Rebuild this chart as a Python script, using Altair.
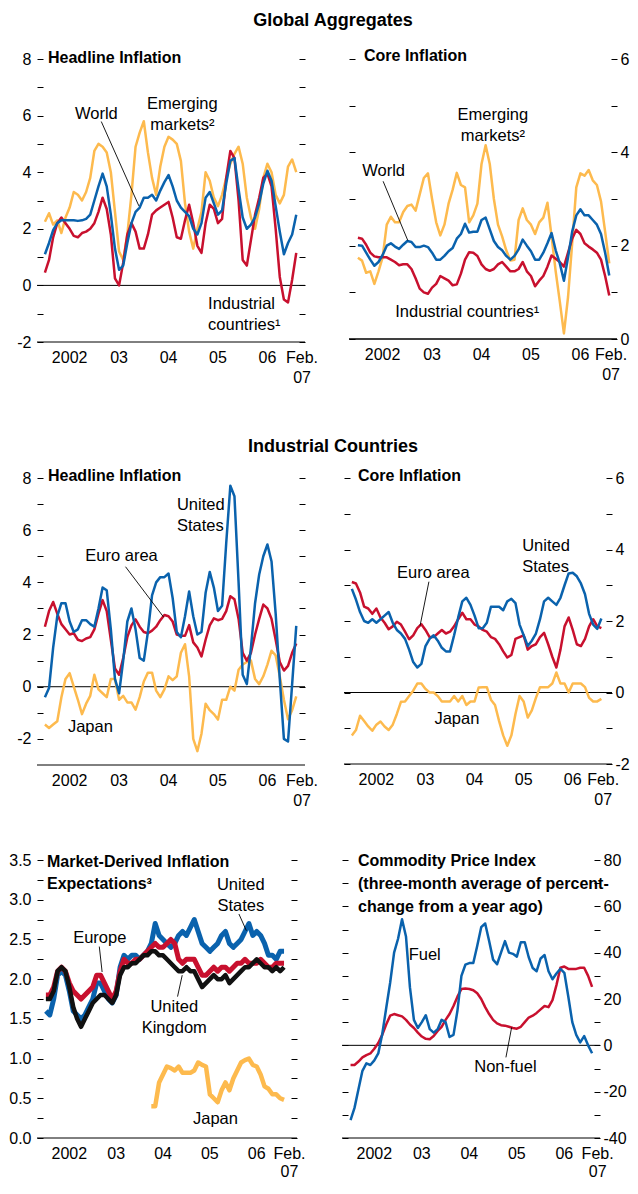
import altair as alt
import pandas as pd

FONT = "Liberation Sans, Arial, Helvetica, sans-serif"
BLUE = "#0A62AD"
RED = "#C8102E"
YELLOW = "#FDBA4E"
BLACK = "#111111"

N = 62  # Jan 2002 .. Feb 2007, monthly
MONTHS = [2002 + i / 12 for i in range(N)]
YEAR_TICKS = [2002, 2003, 2004, 2005, 2006, 2007]
XLAB_POS = [2002.5, 2003.5, 2004.5, 2005.5, 2006.5]
XLAB_TEXT = ["2002", "03", "04", "05", "06"]
FEB_TEXT = "Feb.\n07"

# ---------------- Global aggregates: headline ----------------
GA_HEAD_WORLD = [1.1, 1.5, 1.95, 2.2, 2.3, 2.3, 2.3, 2.3, 2.28, 2.3,
                 2.35, 2.5, 3.0, 3.5, 3.95, 3.5, 2.5, 1.3, 0.55, 0.7,
                 1.5, 2.2, 2.6, 2.75, 3.1, 3.1, 3.2, 3.0, 3.35, 3.65,
                 3.9, 3.5, 3.0, 2.75, 2.6, 2.45, 2.0, 1.8, 2.2, 3.1,
                 3.3, 2.9, 2.5, 2.65, 3.6, 4.4, 4.5, 3.4, 2.4, 2.0,
                 2.15, 2.4, 2.9, 3.6, 4.05, 3.7, 2.8, 1.9, 1.1, 1.5,
                 1.8, 2.5]
GA_HEAD_IND = [0.45, 0.9, 1.7, 2.2, 2.4, 2.2, 2.0, 1.75, 1.7, 1.85,
               1.9, 2.0, 2.2, 2.6, 3.1, 2.7, 1.8, 0.25, 0.0, 0.8,
               1.8, 2.2, 1.9, 1.3, 1.3, 1.8, 2.5, 2.65, 2.75, 2.85,
               2.95, 2.4, 1.7, 1.65, 2.3, 2.85, 2.2, 1.4, 1.15, 2.2,
               2.85, 2.7, 2.2, 2.35, 3.8, 4.75, 4.5, 3.0, 0.9, 0.7,
               1.6, 2.5, 3.1, 3.8, 3.95, 3.5, 2.0, 0.3, -0.5, -0.6,
               0.2, 1.15]
GA_HEAD_EM = [2.25, 2.55, 2.15, 2.3, 1.85, 2.4, 2.75, 3.3, 3.2, 3.0,
              3.3, 3.8, 4.75, 5.0, 4.9, 4.7, 4.0, 2.6, 1.2, 0.9,
              1.8, 3.2, 4.9, 5.4, 5.8, 4.7, 3.8, 3.2, 4.2, 4.9,
              5.25, 5.15, 5.0, 4.4, 2.9, 1.9, 1.3, 2.0, 2.6, 4.0,
              3.7, 3.1, 2.8, 3.2, 3.8, 4.3, 4.65, 4.9, 4.3, 3.1,
              2.4, 2.0, 2.7, 3.8, 4.3, 4.0, 3.2, 2.9, 3.2, 4.2,
              4.45, 4.0]

# ---------------- Global aggregates: core ----------------
GA_CORE_WORLD = [2.01, 2.0, 1.85, 1.7, 1.57, 1.65, 1.8, 2.0, 2.05, 1.98,
                 1.93, 2.02, 2.1, 2.08, 1.97, 1.97, 2.0, 1.97, 1.85, 1.7,
                 1.7, 1.78, 1.88, 1.95, 2.15, 2.25, 2.47, 2.28, 2.3, 2.3,
                 2.55, 2.6, 2.35, 2.1, 1.97, 1.9, 1.78, 1.7, 1.78, 1.92,
                 2.13, 2.0, 1.88, 1.7, 1.7, 1.85, 2.05, 2.27, 1.9, 1.62,
                 1.25, 1.75, 2.3, 2.65, 2.78, 2.65, 2.65, 2.55, 2.45, 2.25,
                 1.85, 1.36]
GA_CORE_IND = [2.17, 2.15, 2.02, 1.85, 1.77, 1.75, 1.75, 1.75, 1.7, 1.65,
               1.58, 1.6, 1.6, 1.5, 1.3, 1.08, 1.0, 0.97, 1.1, 1.18,
               1.35, 1.3, 1.25, 1.15, 1.17, 1.4, 1.7, 1.86, 1.85, 1.78,
               1.6, 1.5, 1.46, 1.5, 1.6, 1.65, 1.55, 1.45, 1.45, 1.5,
               1.65, 1.45, 1.35, 1.13, 1.25, 1.35, 1.55, 1.79, 1.72, 1.65,
               1.55, 1.85, 2.15, 2.34, 2.25, 2.05, 1.98, 1.92, 1.85, 1.7,
               1.35, 0.93]
GA_CORE_EM = [1.74, 1.68, 1.42, 1.45, 1.18, 1.45, 1.75, 2.45, 2.62, 2.5,
              2.5, 2.72, 2.85, 2.88, 2.75, 3.1, 3.45, 3.55, 3.0, 2.5,
              2.22, 2.45, 2.9, 3.2, 3.56, 3.3, 3.25, 2.5, 2.65, 2.9,
              3.75, 4.15, 3.75, 3.0, 2.45, 2.2, 1.9, 1.68, 1.7, 2.55,
              2.8, 2.55, 2.45, 2.25, 2.5, 2.6, 2.92, 2.2, 1.45, 0.8,
              0.12, 0.9, 2.05, 3.25, 3.55, 3.5, 3.62, 3.4, 3.3, 2.95,
              2.3, 1.62]

# ---------------- Industrial countries: headline ----------------
IC_HEAD_US = [-0.4, -0.05, 1.5, 2.7, 3.2, 3.2, 2.5, 2.1, 2.2, 2.55,
              2.55, 2.4, 2.3, 3.0, 3.8, 3.7, 2.2, 0.3, -0.25, 1.0,
              2.5, 3.0, 2.2, 1.1, 1.0, 2.1, 3.5, 4.0, 4.2, 4.2,
              4.34, 3.4, 2.1, 1.9, 2.7, 3.65, 2.7, 2.0, 2.1, 3.6,
              4.4, 3.8, 2.9, 3.1, 5.5, 7.7, 7.3, 4.0, 0.46, 0.1,
              1.5, 3.2, 4.3, 5.0, 5.45, 4.8, 2.8, 0.3, -2.0, -2.1,
              0.1, 2.33]
IC_HEAD_EURO = [2.3, 2.9, 3.25, 2.8, 2.4, 2.2, 2.0, 2.05, 1.8, 1.75,
                1.85, 1.9, 2.2, 2.8, 3.32, 2.9, 1.8, 0.7, 0.46, 1.1,
                1.9, 2.35, 2.58, 2.3, 2.1, 2.05, 2.15, 2.3, 2.55, 2.75,
                2.7, 2.5, 2.0, 1.95, 1.95, 2.36, 1.7, 1.5, 1.16, 1.8,
                2.35, 2.62, 2.55, 2.6, 2.9, 3.47, 3.35, 2.6, 1.3, 1.0,
                1.3, 2.0, 2.6, 3.15, 3.0, 2.6, 1.8, 0.95, 0.62, 0.8,
                1.3, 1.66]
IC_HEAD_JAPAN = [-1.45, -1.58, -1.45, -1.32, -0.4, 0.3, 0.52, 0.0, -0.5, -1.05,
                 -0.65, -0.35, 0.46, -0.1, -0.25, -0.4, 0.3, 0.3, -0.5, -0.35,
                 -0.6, -0.6, -0.88, -0.4, 0.2, 0.54, 0.54, -0.15, -0.4, -0.1,
                 0.4, 0.25, 0.4, 1.3, 1.63, 0.4, -2.0, -2.47, -1.8, -0.65,
                 -0.9, -1.05, -1.26, -0.5, -0.5, 0.0, -0.15, 0.65, 0.85, 0.95,
                 1.0, 0.3, 0.1, 0.4, 0.85, 1.38, 1.2, 0.4, -0.5, -1.25,
                 -0.9, -0.37]

# ---------------- Industrial countries: core ----------------
IC_CORE_US = [2.9, 2.6, 2.25, 2.0, 1.95, 2.05, 1.95, 2.05, 2.15, 2.25,
              1.95, 1.75, 1.65, 1.5, 1.2, 0.85, 0.7, 0.8, 1.3, 1.5,
              1.6, 1.45, 1.25, 1.15, 1.15, 1.6, 2.1, 2.55, 2.65, 2.45,
              2.15, 1.8, 1.8, 1.95, 2.4, 2.4, 2.4, 2.3, 2.55, 2.62,
              2.5, 1.9, 1.6, 1.3, 1.45, 1.65, 2.05, 2.55, 2.65, 2.55,
              2.45, 2.65, 3.0, 3.33, 3.35, 3.25, 3.05, 2.75, 2.2, 1.9,
              1.78, 2.07]
IC_CORE_EURO = [3.09, 3.05, 2.8, 2.4, 2.35, 2.2, 2.35, 2.1, 1.95, 1.77,
                1.85, 1.98, 1.9, 1.7, 1.49, 1.6, 1.8, 1.91, 1.75, 1.55,
                1.55, 1.65, 1.75, 1.65, 1.7, 1.85, 2.05, 2.23, 2.05, 2.05,
                1.9, 1.85, 1.75, 1.7, 1.55, 1.5, 1.35, 1.15, 0.98, 1.05,
                1.5, 1.55, 1.6, 1.2, 1.3, 1.35, 1.55, 1.67, 1.35, 1.0,
                0.7, 1.2, 1.85, 2.1, 1.75, 1.35, 1.3, 1.5, 1.85, 2.05,
                1.85, 1.8]
IC_CORE_JAPAN = [-1.2, -1.05, -0.65, -0.8, -0.95, -1.07, -0.9, -0.81, -0.95, -1.05,
                 -0.9, -0.6, -0.26, -0.25, -0.1, 0.05, 0.25, 0.25, 0.1, 0.0,
                 0.0, -0.1, -0.25, -0.25, -0.25, -0.1, -0.25, -0.1, -0.35, -0.25,
                 -0.25, 0.14, 0.15, 0.15, -0.2, -0.35, -0.8, -1.2, -1.49, -1.2,
                 -0.6, -0.1, -0.25, -0.7, -0.5, -0.15, 0.15, 0.15, 0.15, 0.25,
                 0.56, 0.25, 0.25, 0.0, 0.25, 0.25, 0.25, 0.15, -0.15, -0.25,
                 -0.25, -0.18]

# ---------------- Market-derived inflation expectations ----------------
MK_US = [1.6, 1.55, 1.75, 2.05, 2.1, 2.05, 1.85, 1.6, 1.55, 1.5,
         1.55, 1.65, 1.75, 1.95, 1.95, 1.85, 1.75, 1.7, 1.8, 2.15,
         2.3, 2.25, 2.3, 2.3, 2.25, 2.3, 2.35, 2.45, 2.7, 2.55,
         2.5, 2.45, 2.4, 2.45, 2.55, 2.6, 2.55, 2.65, 2.75, 2.6,
         2.45, 2.4, 2.35, 2.4, 2.45, 2.55, 2.6, 2.45, 2.4, 2.45,
         2.5, 2.6, 2.7, 2.55, 2.6, 2.55, 2.45, 2.3, 2.3, 2.25,
         2.35, 2.35]
MK_EUROPE = [1.8, 1.8, 1.9, 2.1, 2.15, 2.1, 1.95, 1.85, 1.8, 1.75,
             1.8, 1.85, 1.9, 2.05, 2.05, 1.95, 1.85, 1.75, 1.85, 2.1,
             2.25, 2.2, 2.2, 2.25, 2.25, 2.3, 2.35, 2.4, 2.45, 2.4,
             2.4, 2.45, 2.5, 2.45, 2.25, 2.2, 2.25, 2.25, 2.25, 2.15,
             2.05, 2.05, 2.1, 2.15, 2.1, 2.15, 2.15, 2.1, 2.15, 2.2,
             2.2, 2.25, 2.2, 2.2, 2.2, 2.25, 2.2, 2.15, 2.15, 2.2,
             2.2, 2.2]
MK_UK = [1.75, 1.75, 1.85, 2.1, 2.15, 2.1, 1.9, 1.65, 1.5, 1.4,
         1.5, 1.6, 1.7, 1.75, 1.8, 1.8, 1.75, 1.7, 1.8, 2.05,
         2.15, 2.15, 2.2, 2.2, 2.25, 2.3, 2.3, 2.35, 2.35, 2.3,
         2.3, 2.25, 2.2, 2.15, 2.1, 2.1, 2.15, 2.1, 2.1, 2.0,
         1.9, 1.95, 2.0, 2.05, 2.0, 2.0, 2.05, 1.95, 2.0, 2.05,
         2.1, 2.15, 2.15, 2.2, 2.25, 2.2, 2.15, 2.15, 2.1, 2.15,
         2.1, 2.15]
MK_JAPAN = [None] * 27 + [
    0.4, 0.4, 0.7, 0.8, 0.9, 0.88, 0.85, 0.9, 0.82, 0.82,
    0.82, 0.85, 0.95, 0.92, 0.9, 0.55, 0.5, 0.45, 0.6, 0.7,
    0.6, 0.75, 0.85, 0.95, 0.98, 1.0, 0.92, 0.9, 0.8, 0.65,
    0.62, 0.55, 0.55, 0.5, 0.48]

# ---------------- Commodity price index ----------------
CP_FUEL = [-32.3, -27, -19, -11, -7.8, -8.5, -6.5, -3.5, 4.8, 16,
           27, 40, 46, 54.4, 47, 25, 11, 7.5, 10, 13,
           7, 5.5, 7, 11, 10, 3.6, 4.5, 15, 30, 34.8,
           35.5, 35.5, 43, 51, 52.6, 45, 37, 35, 40, 45,
           40, 39.5, 38.3, 44.5, 44.5, 38, 33.4, 32, 37.5, 39,
           32, 28.5, 31, 33, 31.3, 21, 10, 4.5, 1.3, 4,
           0, -3.4]
CP_NONFUEL = [-8.5, -8.5, -7, -5.2, -4.2, -3.5, -1.5, 1, 4.5, 9,
              12.8, 13.5, 13, 12.5, 11, 9, 7.5, 5.5, 3.8, 2.8,
              2.6, 4, 6.2, 8, 11, 13.5, 17, 21, 24.3, 24.5,
              24.3, 23.8, 22.5, 20, 16.5, 13.5, 11, 9.5, 8.7, 8.5,
              8, 7.5, 7.2, 8, 10, 12, 12.8, 14, 15.5, 17,
              16.5, 19.5, 26, 33.5, 34, 33, 33, 33, 33.5, 33.5,
              30, 25.2]

LABEL_FS = 16
ANNOT_FS = 16.5
TITLE_FS = 16


def make_panel(series, xdom, ydom, yvals, lab_expr, left_labels, right_labels,
               W, H, title, title_x, title_y, annots, leaders,
               zero_line=True, title_lh=22, feb_pos=2007.2, xlab_lh=20):
    xs = alt.Scale(domain=xdom, nice=False, zero=False)
    ys = alt.Scale(domain=ydom, nice=False, zero=False)

    def xenc(axis=None):
        return alt.X("t:Q", scale=xs, axis=axis, title=None)

    # ticks mostly inside the plot, axis line drawn as a separate rule
    xaxis = alt.Axis(values=YEAR_TICKS, labels=False, ticks=True, tickSize=8,
                     tickColor="black", tickWidth=1, domain=False, offset=-6,
                     grid=False, title=None)

    def yaxis(orient, show):
        kw = dict(orient=orient, values=yvals, ticks=True, tickSize=6,
                  tickColor="black", tickWidth=1, offset=-6, domain=False,
                  grid=False, title=None, minExtent=0)
        if show:
            kw.update(labels=True, labelExpr=lab_expr, labelFont=FONT,
                      labelFontSize=LABEL_FS, labelColor="black",
                      labelPadding=6 if orient == "left" else 3,
                      labelOverlap=False, labelFlush=False)
        else:
            kw.update(labels=False)
        return alt.Axis(**kw)

    layers = []
    zdf = pd.DataFrame({"v": [0.0]})
    layers.append(
        alt.Chart(zdf).mark_rule(color="black", strokeWidth=1,
                                 opacity=1 if zero_line else 0).encode(
            y=alt.Y("v:Q", scale=ys, axis=yaxis("right", right_labels))))
    # bottom axis line
    layers.append(
        alt.Chart(zdf).mark_rule(color="black", strokeWidth=1).encode(
            y=alt.value(H)))

    for k, (vals, color, sw) in enumerate(series):
        df = pd.DataFrame({"t": MONTHS, "v": vals}).dropna()
        layers.append(
            alt.Chart(df).mark_line(color=color, strokeWidth=sw,
                                    strokeJoin="round").encode(
                x=xenc(xaxis if k == 0 else None),
                y=alt.Y("v:Q", scale=ys,
                        axis=yaxis("left", left_labels) if k == 0 else None)))

    xl = pd.DataFrame({"t": XLAB_POS + [feb_pos], "lab": XLAB_TEXT + [FEB_TEXT]})
    layers.append(
        alt.Chart(xl).mark_text(font=FONT, fontSize=LABEL_FS, baseline="alphabetic",
                                lineBreak="\n", lineHeight=xlab_lh, align="center",
                                color="black").encode(
            x=xenc(), y=alt.value(H + 21), text="lab:N"))

    for (t, v, txt, al) in annots:
        adf = pd.DataFrame({"t": [t], "v": [v], "txt": [txt]})
        layers.append(
            alt.Chart(adf).mark_text(font=FONT, fontSize=ANNOT_FS, baseline="alphabetic",
                                     lineBreak="\n", lineHeight=21, align=al,
                                     color="black").encode(
                x=xenc(), y=alt.Y("v:Q", scale=ys, axis=None), text="txt:N"))

    if leaders:
        ldf = pd.DataFrame(leaders, columns=["t", "v", "t2", "v2"])
        layers.append(
            alt.Chart(ldf).mark_rule(color="black", strokeWidth=0.9).encode(
                x=xenc(), y=alt.Y("v:Q", scale=ys, axis=None),
                x2="t2:Q", y2="v2:Q"))

    tdf = pd.DataFrame({"a": [0]})
    layers.append(
        alt.Chart(tdf).mark_text(font=FONT, fontSize=TITLE_FS, fontWeight="bold",
                                 align="left", baseline="alphabetic",
                                 lineBreak="\n", lineHeight=title_lh,
                                 color="black").encode(
            x=alt.value(title_x), y=alt.value(title_y), text=alt.value(title)))

    return alt.layer(*layers).resolve_axis(y="independent").properties(
        width=W, height=H)


def text_block(text, x, y, h, size=18):
    return alt.Chart(pd.DataFrame({"a": [0]})).mark_text(
        font=FONT, fontSize=size, fontWeight="bold", align="center",
        baseline="alphabetic", color="black").encode(
        x=alt.value(x), y=alt.value(y), text=alt.value(text)
    ).properties(width=560, height=h)


EVEN = "datum.value % 2 === 0 ? toString(datum.value) : ''"
HALF = "round(datum.value * 4) % 2 === 0 ? format(datum.value, '.1f') : ''"
TWENTY = "datum.value % 20 === 0 ? toString(datum.value) : ''"

p1 = make_panel(
    [(GA_HEAD_EM, YELLOW, 2.5), (GA_HEAD_IND, RED, 2.5), (GA_HEAD_WORLD, BLUE, 2.5)],
    [2001.84, 2007.26], [-2, 8], list(range(-2, 9)), EVEN, True, False,
    268, 283, "Headline Inflation", 11, 4,
    [(2003.04, 5.89, "World", "center"),
     (2004.78, 6.25, "Emerging\nmarkets²", "center"),
     (2005.3, -0.84, "Industrial\ncountries¹", "left")],
    [(2003.14, 5.79, 2003.9, 2.81)])

p2 = make_panel(
    [(GA_CORE_EM, YELLOW, 2.5), (GA_CORE_IND, RED, 2.5), (GA_CORE_WORLD, BLUE, 2.5)],
    [2001.82, 2007.24], [0, 6], list(range(0, 7)), EVEN, False, True,
    268, 280, "Core Inflation", 15, 2,
    [(2004.73, 4.70, "Emerging\nmarkets²", "center"),
     (2002.52, 3.49, "World", "center"),
     (2004.21, 0.47, "Industrial countries¹", "center")],
    [(2002.51, 3.38, 2003.01, 2.11)], feb_pos=2007.12)

p3 = make_panel(
    [(IC_HEAD_JAPAN, YELLOW, 2.5), (IC_HEAD_EURO, RED, 2.5), (IC_HEAD_US, BLUE, 2.5)],
    [2001.84, 2007.26], [-3, 8], list(range(-2, 9)), EVEN, True, False,
    268, 287, "Headline Inflation", 11, 3,
    [(2004.67, 6.78, "United\nStates", "left"),
     (2003.55, 4.83, "Euro area", "center"),
     (2002.92, -1.73, "Japan", "center")],
    [(2003.63, 4.60, 2004.40, 2.67)])

p4 = make_panel(
    [(IC_CORE_JAPAN, YELLOW, 2.5), (IC_CORE_EURO, RED, 2.5), (IC_CORE_US, BLUE, 2.5)],
    [2001.84, 2007.3], [-2, 6], list(range(-2, 7)), EVEN, False, True,
    268, 286, "Core Inflation", 14, 3,
    [(2005.47, 3.96, "United\nStates", "left"),
     (2003.66, 3.21, "Euro area", "center"),
     (2004.14, -0.87, "Japan", "center")],
    [(2003.57, 3.1, 2003.39, 1.87)], feb_pos=2007.12)

p5 = make_panel(
    [(MK_US, BLUE, 5), (MK_EUROPE, RED, 5), (MK_UK, BLACK, 4.5), (MK_JAPAN, YELLOW, 4.5)],
    [2001.81, 2007.36], [0, 3.5], [i / 4 for i in range(0, 15)], HALF, True, False,
    260, 278, "Market-Derived Inflation\nExpectations³", 10, 7,
    [(2006.16, 3.12, "United\nStates", "center"),
     (2003.15, 2.45, "Europe", "center"),
     (2004.74, 1.59, "United\nKingdom", "center"),
     (2005.62, 0.18, "Japan", "center")],
    [(2006.12, 2.82, 2006.28, 2.61),
     (2003.14, 2.41, 2003.2, 2.09),
     (2004.81, 1.78, 2004.91, 2.05)],
    zero_line=False, xlab_lh=18)

p6 = make_panel(
    [(CP_NONFUEL, RED, 2.5), (CP_FUEL, BLUE, 2.5)],
    [2001.82, 2007.25], [-40, 80], list(range(-40, 81, 10)), TWENTY, False, True,
    258, 278,
    "Commodity Price Index\n(three-month average of percent-\nchange from a year ago)",
    16, 6,
    [(2003.56, 36.8, "Fuel", "center"),
     (2005.26, -11.5, "Non-fuel", "center")],
    [(2005.27, -5.2, 2005.39, 7.7)],
    title_lh=23, feb_pos=2007.2, xlab_lh=18)

row1 = alt.hconcat(p1, p2, spacing=29)
row2 = alt.hconcat(p3, p4, spacing=24)
row3 = alt.hconcat(p5, p6, spacing=35)

chart = alt.vconcat(
    text_block("Global Aggregates", 296, 18, 40),
    row1,
    text_block("Industrial Countries", 296, 66, 82),
    row2,
    alt.Chart(pd.DataFrame({"a": [0]})).mark_text(opacity=0).encode(
        x=alt.value(0), y=alt.value(0), text=alt.value("")
    ).properties(width=10, height=37),
    row3,
    spacing=0,
).properties(
    padding={"left": 0, "top": 0, "right": 0, "bottom": 0}, background="white"
).configure_view(stroke=None)

chart.save("out.html", embed_options={"renderer": "svg", "actions": False})
